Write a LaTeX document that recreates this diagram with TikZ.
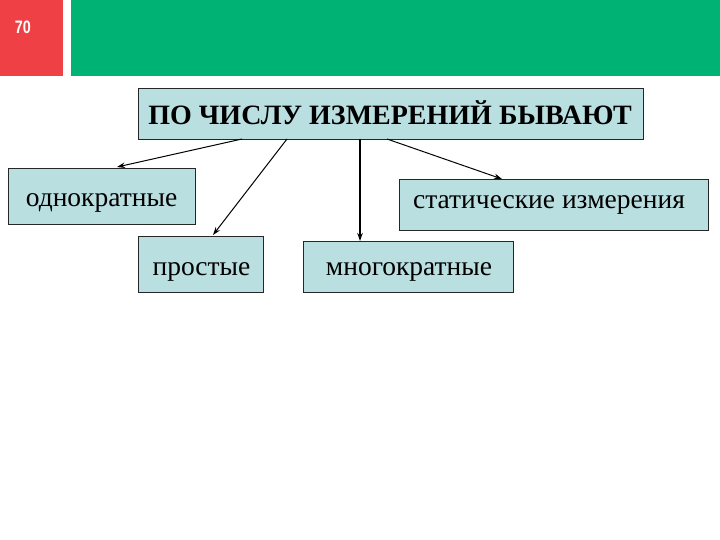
\documentclass[tikz,border=0pt]{standalone}
\usepackage{fontspec}
\setmainfont{Liberation Serif}
\newfontfamily\numfont{Liberation Sans}
\usetikzlibrary{arrows.meta}
\definecolor{bargreen}{HTML}{00B274}
\definecolor{barred}{HTML}{EF4046}
\definecolor{boxfill}{HTML}{BADFE1}
\tikzset{
  box/.style={draw=black!85, line width=0.9pt, fill=boxfill},
  lbl/.style={inner sep=0pt, anchor=base},
  txt/.style={lbl, font=\fontsize{27.5}{30}\selectfont},
  conn/.style={draw=black, line width=1pt, -{Stealth[length=8pt,width=5.5pt]}},
}
\begin{document}
\begin{tikzpicture}[x=1pt,y=-1pt]
\useasboundingbox (0,0) rectangle (720,540);
\fill[white] (0,0) rectangle (720,540);
\fill[barred] (0,0) rectangle (63,76);
\fill[bargreen] (71,0) rectangle (720,76);
\node[lbl, text=white, font=\numfont\bfseries\fontsize{18}{20}\selectfont, xscale=0.8] (num) at (23,34) {70};

\draw[box] (138,88) rectangle (643,139);
\node[lbl, font=\bfseries\fontsize{28}{30}\selectfont] (top) at (390,125) {ПО ЧИСЛУ ИЗМЕРЕНИЙ БЫВАЮТ};

\draw[box] (8,168) rectangle (195,224);
\node[txt] (odn) at (101.5,207) {однократные};

\draw[box] (138,236) rectangle (263,292);
\node[txt] (pro) at (201.5,275) {простые};

\draw[box] (303,241) rectangle (513,292);
\node[txt] (mno) at (409,275) {многократные};

\draw[box] (399,179) rectangle (708,230);
\node[txt] (sta) at (549,208) {статические измерения};

\coordinate (s1) at (242,139); \coordinate (e1) at (117,167);
\coordinate (s2) at (287,139); \coordinate (e2) at (213,235);
\coordinate (s3) at (360,139); \coordinate (e3) at (360,241);
\coordinate (s4) at (387,139); \coordinate (e4) at (502,179);
\draw[conn] (s1) -- (e1);
\draw[conn] (s2) -- (e2);
\draw[conn, line width=2pt] (s3) -- (e3);
\draw[conn] (s4) -- (e4);
\end{tikzpicture}
\end{document}
